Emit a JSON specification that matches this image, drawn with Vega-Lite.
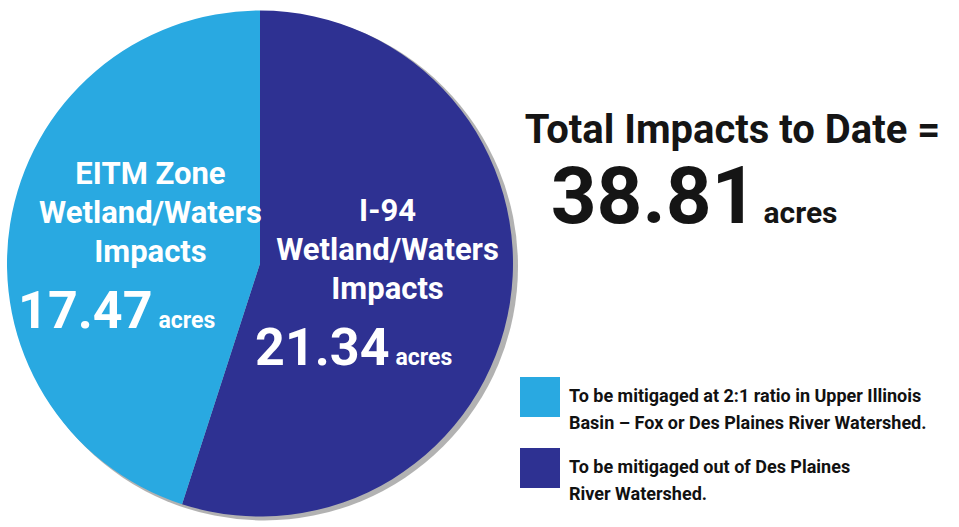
{
  "$schema": "https://vega.github.io/schema/vega-lite/v6.json",
  "padding": 0,
  "background": "white",
  "spacing": 0,
  "bounds": "flush",
  "config": {"view": {"stroke": null}, "font": "Roboto, Liberation Sans, sans-serif"},
  "datasets": {
    "impacts": [
      {"zone": "I-94", "label": "I-94\nWetland/Waters\nImpacts", "acres": 21.34, "mitigation": "To be mitigaged out of Des Plaines\nRiver Watershed."},
      {"zone": "EITM Zone", "label": "EITM Zone\nWetland/Waters\nImpacts", "acres": 17.47, "mitigation": "To be mitigaged at 2:1 ratio in Upper Illinois\nBasin – Fox or Des Plaines River Watershed."}
    ]
  },
  "hconcat": [
    {
      "width": 520,
      "height": 527,
      "data": {"name": "impacts"},
      "layer": [
        {
          "transform": [{"aggregate": [{"op": "sum", "field": "acres", "as": "total"}]}],
          "mark": {"type": "arc", "theta": 0, "theta2": 6.2832, "outerRadius": 254, "xOffset": 4, "yOffset": 3, "color": "#555555", "opacity": 0.45},
          "encoding": {}
        },
        {
          "mark": {"type": "arc", "outerRadius": 253},
          "encoding": {
            "theta": {"field": "acres", "type": "quantitative", "stack": true},
            "order": {"field": "zone", "sort": "descending"},
            "color": {
              "field": "mitigation",
              "type": "nominal",
              "scale": {"range": ["#29a9e1", "#2e3192"]},
              "legend": {
                "title": null,
                "orient": "none",
                "legendX": 520,
                "legendY": 377,
                "symbolType": "square",
                "symbolSize": 1600,
                "symbolStrokeWidth": 0,
                "symbolOpacity": 1,
                "labelFontSize": 18,
                "labelFont": "Roboto, Liberation Sans, sans-serif",
                "labelFontWeight": "bold",
                "labelColor": "#111111",
                "labelLimit": 0,
                "labelOffset": 9,
                "rowPadding": 15,
                "labelExpr": "split(datum.label, '\\n')",
                "encode": {"labels": {"update": {"lineHeight": {"value": 27}}}}
              }
            }
          }
        },
        {
          "mark": {"type": "text", "radius": 120, "lineBreak": "\n", "fontSize": 31, "lineHeight": 39, "fontWeight": "bold", "fill": "white", "dx": 9, "dy": -70, "baseline": "middle", "align": "center"},
          "encoding": {
            "theta": {"field": "acres", "type": "quantitative", "stack": true},
            "order": {"field": "zone", "sort": "descending"},
            "text": {"field": "label"}
          }
        },
        {
          "mark": {"type": "text", "radius": 120, "fontSize": 52, "fontWeight": "bold", "fill": "white", "dx": 11, "dy": 83, "align": "right", "baseline": "alphabetic"},
          "encoding": {
            "theta": {"field": "acres", "type": "quantitative", "stack": true},
            "order": {"field": "zone", "sort": "descending"},
            "text": {"field": "acres", "type": "quantitative", "format": ".2f"}
          }
        },
        {
          "mark": {"type": "text", "radius": 120, "text": "acres", "fontSize": 23, "fontWeight": "bold", "fill": "white", "dx": 17, "dy": 83, "align": "left", "baseline": "alphabetic"},
          "encoding": {
            "theta": {"field": "acres", "type": "quantitative", "stack": true},
            "order": {"field": "zone", "sort": "descending"}
          }
        }
      ]
    },
    {
      "width": 439,
      "height": 527,
      "data": {"name": "impacts"},
      "transform": [{"aggregate": [{"op": "sum", "field": "acres", "as": "total"}]}],
      "layer": [
        {
          "mark": {"type": "text", "text": "Total Impacts to Date =", "fontSize": 40, "fontWeight": "bold", "color": "#151515", "align": "center", "baseline": "alphabetic", "dx": -7, "dy": -121},
          "encoding": {}
        },
        {
          "mark": {"type": "text", "fontSize": 80, "fontWeight": "bold", "color": "#151515", "align": "right", "baseline": "alphabetic", "dx": 18, "dy": -41},
          "encoding": {"text": {"field": "total", "type": "quantitative", "format": ".2f"}}
        },
        {
          "mark": {"type": "text", "text": "acres", "fontSize": 30, "fontWeight": "bold", "color": "#151515", "align": "left", "baseline": "alphabetic", "dx": 24, "dy": -41},
          "encoding": {}
        }
      ]
    }
  ]
}
